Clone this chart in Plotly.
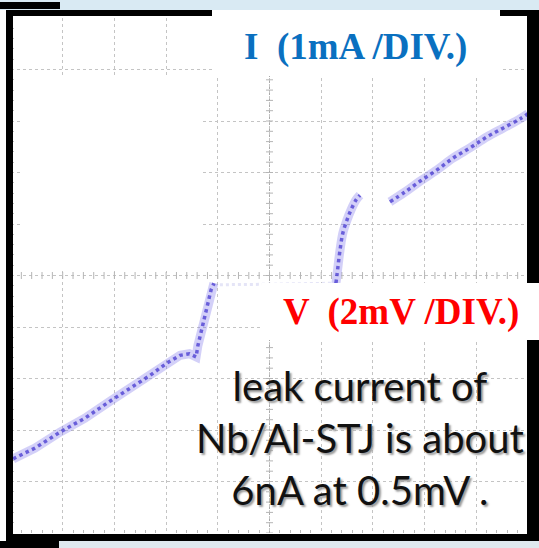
import numpy as np
import plotly.graph_objects as go

# ---- data (V in mV, I in mA) ----
neg_v = [-9.92, -9.07, -8.10, -7.14, -6.17, -5.28, -4.62, -3.97, -3.46, -3.10, -2.84,
         -2.77, -2.65, -2.49, -2.38, -2.26, -2.15]
neg_i = [-3.56, -3.35, -3.04, -2.77, -2.44, -2.15, -1.94, -1.70, -1.55, -1.52, -1.58,
         -1.36, -1.10, -0.77, -0.51, -0.28, -0.15]
sub_v = [-2.15, -1.0, 0.0, 1.0, 2.57]
sub_i = [-0.18, -0.18, -0.17, -0.16, -0.15]
rise_v = [2.57, 2.61, 2.73, 2.84, 3.00, 3.15, 3.35, 3.50]
rise_i = [-0.15, 0.01, 0.50, 0.83, 1.08, 1.27, 1.47, 1.56]
pos_v = [4.66, 5.24, 5.82, 6.48, 7.10, 7.76, 8.41, 9.03, 9.69, 10.0]
pos_i = [1.43, 1.62, 1.83, 2.05, 2.28, 2.48, 2.69, 2.86, 3.04, 3.14]

W, H = 539, 548
L, R, T, B = 11, 11, 18, 15
PW, PH = W - L - R, H - T - B


def px(x):
    return (x - L) / PW


def py(y):
    return (H - B - y) / PH


fig = go.Figure()

# center-axis tick marks (graticule decoration)
cx = np.arange(-10, 10.01, 0.4)
cy = np.arange(-5, 5.01, 0.2)
fig.add_trace(go.Scatter(x=cx, y=np.zeros_like(cx), mode="markers",
                         marker=dict(symbol="line-ns-open", size=5, color="#b5b5b5", line=dict(width=1, color="#b5b5b5")),
                         hoverinfo="skip", showlegend=False))
fig.add_trace(go.Scatter(x=np.zeros_like(cy), y=cy, mode="markers",
                         marker=dict(symbol="line-ew-open", size=5, color="#b5b5b5", line=dict(width=1, color="#b5b5b5")),
                         hoverinfo="skip", showlegend=False))

# faint subgap trace
fig.add_trace(go.Scatter(x=sub_v, y=sub_i, mode="lines",
                         line=dict(color="rgba(170,170,230,0.30)", width=3, dash="dot"),
                         hoverinfo="skip", showlegend=False))

for xs, ys, shp in [(neg_v, neg_i, "linear"), (rise_v, rise_i, "spline"), (pos_v, pos_i, "spline")]:
    fig.add_trace(go.Scatter(x=xs, y=ys, mode="lines",
                             line=dict(color="rgba(130,120,235,0.35)", width=9, shape=shp),
                             hoverinfo="skip", showlegend=False))
    fig.add_trace(go.Scatter(x=xs, y=ys, mode="lines",
                             line=dict(color="rgba(60,45,205,0.70)", width=3.5, dash="dot", shape=shp),
                             hoverinfo="skip", showlegend=False))

shapes = []


def rect(x0, y0, x1, y1, color, layer="above"):
    shapes.append(dict(type="rect", xref="paper", yref="paper",
                       x0=px(x0), x1=px(x1), y0=py(y1), y1=py(y0),
                       fillcolor=color, line=dict(width=0), layer=layer))


# center dotted axes
shapes.append(dict(type="line", xref="x", yref="y", x0=-10, x1=10, y0=0, y1=0,
                   line=dict(color="#aaaaaa", width=1, dash="dot"), layer="below"))
shapes.append(dict(type="line", xref="x", yref="y", x0=0, x1=0, y0=-5, y1=5,
                   line=dict(color="#aaaaaa", width=1, dash="dot"), layer="below"))

# background bands
rect(0, 0, 539, 10, "#d9eaf3")
rect(0, 541, 539, 548, "#dfe8ee")
rect(0, 2, 60, 9, "#000000")
rect(0, 541, 59, 548, "#000000")
# white cover boxes
rect(20, 76, 200, 271, "#ffffff")
# frame
rect(6, 10, 13, 541, "#000000")
rect(6, 10, 539, 16, "#000000")
rect(527, 10, 539, 541, "#000000")
rect(6, 534, 539, 541, "#000000")
# label boxes
rect(212, 10, 500, 76, "#ffffff")
rect(262, 283, 539, 340, "#ffffff")

annotations = [
    dict(text="<b>I  (1mA /DIV.)</b>", x=px(355), y=py(47), xref="paper", yref="paper",
         xanchor="center", yanchor="middle", showarrow=False,
         font=dict(family="Liberation Serif", size=37, color="#0a70c0")),
    dict(text="<b>V  (2mV /DIV.)</b>", x=px(401), y=py(312), xref="paper", yref="paper",
         xanchor="center", yanchor="middle", showarrow=False,
         font=dict(family="Liberation Serif", size=37, color="#ff0000")),
    dict(text="leak current of<br>Nb/Al-STJ is about<br>6nA at 0.5mV .", x=px(360), y=py(438),
         xref="paper", yref="paper", xanchor="center", yanchor="middle", showarrow=False,
         align="center",
         font=dict(family="Lato", size=40, color="#111111", shadow="2px 2px 2px #9a9a9a")),
]

axis_common = dict(showticklabels=False, showline=False, zeroline=False,
                   showgrid=True, gridcolor="#c4c4c4", griddash="dot", gridwidth=1,
                   ticks="", fixedrange=True)

fig.update_layout(
    width=W, height=H,
    margin=dict(l=L, r=R, t=T, b=B, pad=0),
    paper_bgcolor="#ffffff", plot_bgcolor="#ffffff",
    xaxis=dict(range=[-10, 10], dtick=2, tick0=0,
               minor=dict(dtick=0.4, ticks="inside", ticklen=3, tickcolor="#bbbbbb", showgrid=False),
               mirror="allticks", **axis_common),
    yaxis=dict(range=[-5, 5], dtick=1, tick0=0,
               minor=dict(dtick=0.2, ticks="inside", ticklen=3, tickcolor="#bbbbbb", showgrid=False),
               mirror="allticks", **axis_common),
    shapes=shapes, annotations=annotations, showlegend=False,
)

fig.write_html("out.html")
